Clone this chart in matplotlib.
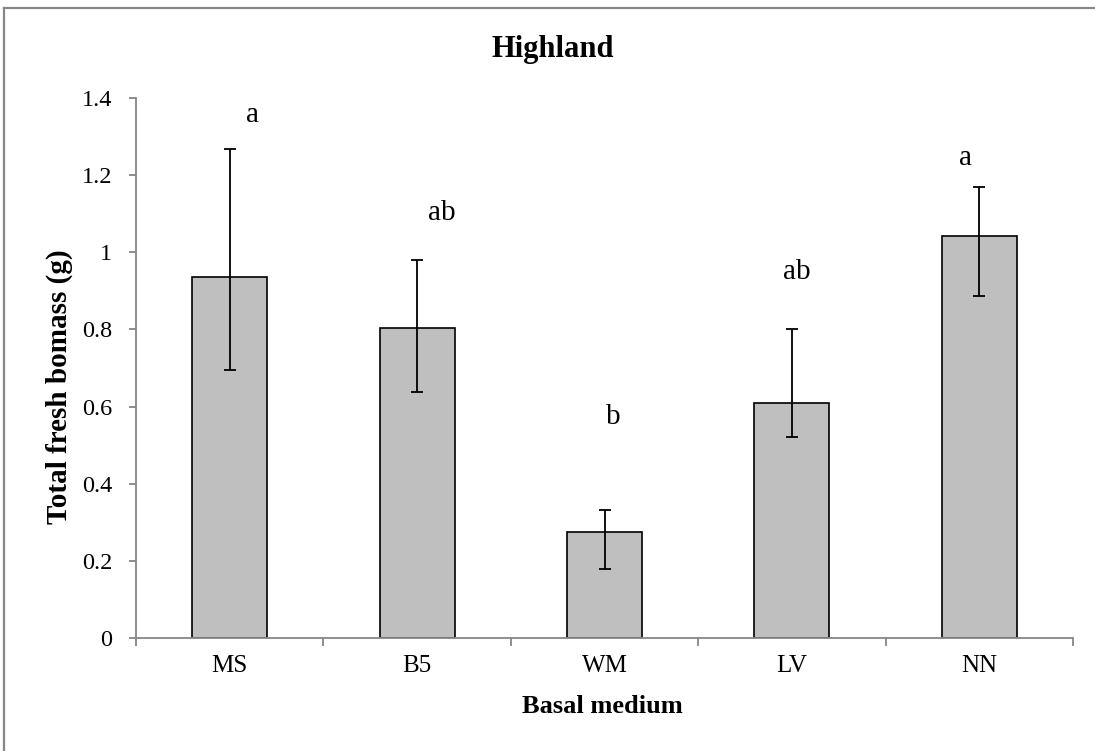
import matplotlib
matplotlib.use("Agg")
import matplotlib.pyplot as plt
from matplotlib.lines import Line2D
import numpy as np

plt.rcParams['font.family'] = ['Liberation Serif', 'DejaVu Serif']

# Data
media = ["MS", "B5", "WM", "LV", "NN"]
biomass = [0.935, 0.803, 0.275, 0.610, 1.043]
err_upper = [1.269, 0.980, 0.333, 0.800, 1.170]
err_lower = [0.694, 0.638, 0.178, 0.520, 0.886]
groups = ["a", "ab", "b", "ab", "a"]
y_ticks = [0, 0.2, 0.4, 0.6, 0.8, 1, 1.2, 1.4]
y_ticklabels = ["0", "0.2", "0.4", "0.6", "0.8", "1", "1.2", "1.4"]

# Placement of the significance letters (x shift, baseline height)
letter_dx = [0.12, 0.13, 0.045, 0.025, -0.075]
letter_y = [1.337, 1.084, 0.555, 0.930, 1.227]

W, H = 1095, 751
fig = plt.figure(figsize=(W / 100, H / 100), dpi=100)
ax = fig.add_axes([136 / W, 1 - 638 / H, 937 / W, 540 / H])

x = np.arange(len(media))
means = np.array(biomass)
yerr = np.vstack([means - np.array(err_lower), np.array(err_upper) - means])

ax.bar(x, means, width=0.4, color="#BFBFBF", edgecolor="black", linewidth=1.2, zorder=2)
ax.errorbar(x, means, yerr=yerr, fmt="none", ecolor="black", elinewidth=1.3,
            capsize=4.5, capthick=1.3, zorder=3)

for xi, dx, ly, g in zip(x, letter_dx, letter_y, groups):
    ax.text(xi + dx, ly, g, ha="center", va="baseline", fontsize=21)

ax.set_xlim(-0.5, len(media) - 0.5)
ax.set_ylim(0, 1.4)

spine_col = "#868686"
for s in ("top", "right"):
    ax.spines[s].set_visible(False)
for s in ("left", "bottom"):
    ax.spines[s].set_color(spine_col)
    ax.spines[s].set_linewidth(1.3)

ax.set_yticks(y_ticks)
ax.set_yticklabels(y_ticklabels, fontsize=17.5)
ax.tick_params(axis="y", direction="out", length=5, width=1.3, color=spine_col, pad=12)

ax.set_xticks(x)
ax.set_xticklabels(media, fontsize=18)
ax.tick_params(axis="x", which="major", length=0, pad=12.5)
ax.set_xticks(np.arange(-0.5, len(media)), minor=True)
ax.tick_params(axis="x", which="minor", direction="out", length=5.8, width=1.3, color=spine_col)

ax.set_xlabel("Basal medium", fontsize=19, fontweight="bold")
ax.xaxis.set_label_coords(0.498, -0.105)
ax.set_ylabel("Total fresh bomass (g)", fontsize=21, fontweight="bold")
ax.yaxis.set_label_coords(-0.067, 0.465)

fig.text(553 / W, 1 - 57 / H, "Highland", ha="center", va="baseline",
         fontsize=22, fontweight="bold")

# Outer chart frame
fig.add_artist(Line2D([4 / W, 4 / W], [0, 1 - 8 / H], transform=fig.transFigure,
                      color="#878787", linewidth=1.6))
fig.add_artist(Line2D([4 / W, 1], [1 - 8 / H, 1 - 8 / H], transform=fig.transFigure,
                      color="#878787", linewidth=1.6))

fig.savefig("out.png", dpi=100, facecolor="white")
